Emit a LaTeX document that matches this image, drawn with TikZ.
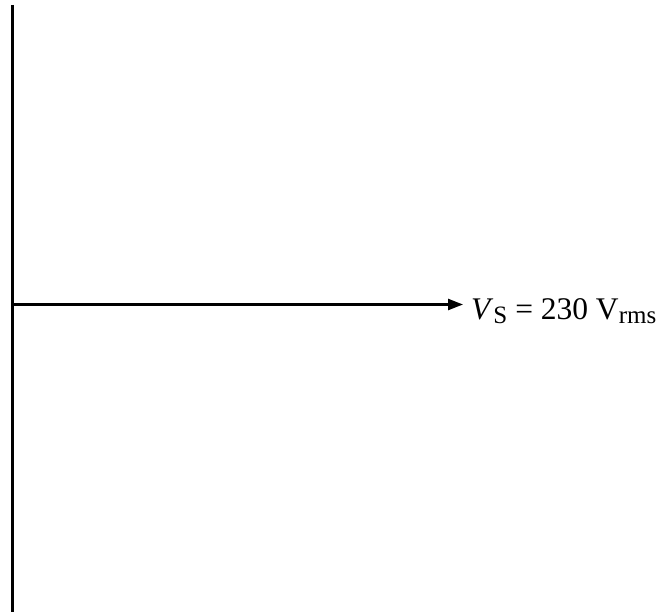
\documentclass[tikz,border=0pt]{standalone}
\usepackage{fontspec}
\setmainfont{Liberation Serif}
\usepackage{tikz}
\usetikzlibrary{arrows.meta,positioning}
\definecolor{cInk}{HTML}{000000}
\tikzset{
  axisline/.style={line width=3.2pt,color=cInk},
  phasor/.style={-{Triangle[length=15pt,width=11pt]},line width=2.4pt,color=cInk},
  vlbl/.style={font=\fontsize{31.5}{37}\selectfont,text=cInk,inner sep=0pt,anchor=base west},
}
\newcommand{\lowsub}[1]{\raisebox{-0.14em}{\fontsize{25}{29}\selectfont #1}}

\begin{document}
\begin{tikzpicture}[x=1pt,y=-1pt]
  \useasboundingbox (0,0) rectangle (669,612);
  % reference axis
  \coordinate (axtop) at (12.5,5);
  \coordinate (axbot) at (12.5,612);
  \draw[axisline] (axtop) -- (axbot);
  % supply voltage phasor
  \coordinate (orig) at (12.5,304.5);
  \node[vlbl] (vs) at (471,319) {\textit{V}\lowsub{S} = 230 V\lowsub{rms}};
  \coordinate (tip) at (463,304.5);
  \draw[phasor] (orig) -- (tip);
\end{tikzpicture}
\end{document}
